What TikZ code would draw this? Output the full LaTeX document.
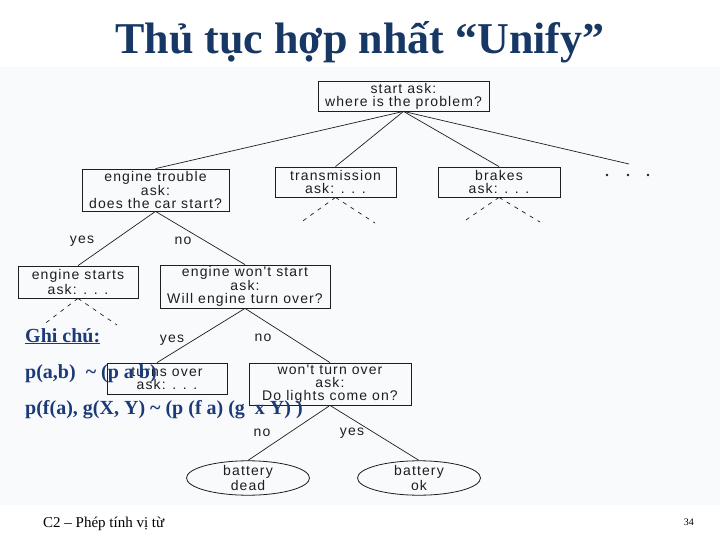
\documentclass[tikz,border=0pt]{standalone}
\usepackage{fontspec}
\setmainfont{Liberation Serif}
\newfontfamily\treefont[LetterSpace=8]{Liberation Sans}
\usetikzlibrary{shapes.geometric}
\definecolor{navy}{RGB}{23,55,100}
\definecolor{notecol}{RGB}{28,58,120}
\definecolor{ink}{RGB}{30,30,30}
\definecolor{scanbg}{RGB}{249,250,252}
\begin{document}
\begin{tikzpicture}[x=1pt,y=-1pt,
  treetext/.style={font=\treefont\fontsize{14}{12.8}\selectfont, text=ink},
  box/.style={treetext, draw=ink, line width=0.8pt, inner sep=0pt, align=center},
  oval/.style={treetext, ellipse, draw=ink, line width=0.8pt, inner sep=0pt, align=center, minimum width=123pt, minimum height=30pt},
  link/.style={draw=ink, line width=0.7pt},
  dlink/.style={draw=ink, line width=0.7pt, dash pattern=on 4pt off 5pt},
  lbl/.style={treetext, inner sep=0pt},
  note/.style={font=\fontsize{20}{20}\selectfont\bfseries, text=notecol, anchor=base west, inner sep=0pt},
  dotmark/.style={circle, fill=ink, inner sep=0pt, minimum size=2.6pt}
]
\useasboundingbox (0,0) rectangle (720,540);
\fill[scanbg] (0,67) rectangle (720,505);

% title
\node[font=\fontsize{44}{44}\selectfont\bfseries, text=navy, anchor=base, inner sep=0pt] (title) at (360,54) {Thủ tục hợp nhất “Unify”};

% tree nodes
\node[box, minimum width=171pt, minimum height=30pt] (start) at (403.5,96) {start ask:\\where is the problem?};
\node[box, minimum width=147pt, minimum height=42pt] (et) at (155.5,190) {engine trouble\\ask:\\does the car start?};
\node[box, minimum width=121pt, minimum height=30pt] (tr) at (335.5,182) {transmission\\ask: . . .};
\node[box, minimum width=122pt, minimum height=30pt] (br) at (499,182) {brakes\\ask: . . .};
\node[box, minimum width=120pt, minimum height=32pt] (es) at (78,282) {engine starts\\ask: . . .};
\node[box, minimum width=170pt, minimum height=43pt] (ews) at (245,286.5) {engine won't start\\ask:\\Will engine turn over?};
\node[box, minimum width=120pt, minimum height=31pt] (to) at (167,378.5) {turns over\\ask: . . .};
\node[box, minimum width=162pt, minimum height=42pt] (wto) at (330,384) {won't turn over\\ask:\\Do lights come on?};
\node[oval] (bd) at (248,478) {battery\\dead};
\node[oval] (bo) at (419,478) {battery\\ok};

% dots for more branches
\coordinate (more) at (629,164);
\node[dotmark] (d1) at (607,175) {};
\node[dotmark] (d2) at (628,175) {};
\node[dotmark] (d3) at (648,175) {};

% dashed stub ends
\coordinate (esL) at (43,325);
\coordinate (esR) at (117,325);
\coordinate (trL) at (300,223);
\coordinate (trR) at (375,223);
\coordinate (brL) at (463,222);
\coordinate (brR) at (540,222);

% solid connectors
\draw[link] (start.south) -- (et.north);
\draw[link] (start.south) -- (tr.north);
\draw[link] (start.south) -- (br.north);
\draw[link] (start.south) -- (more);
\draw[link] (et.south) -- (es.north);
\draw[link] (et.south) -- (ews.north);
\draw[link] (ews.south) -- ([xshift=-10pt]to.north);
\draw[link] (ews.south) -- (wto.north);
\draw[link] (wto.south) -- (bd.north);
\draw[link] (wto.south) -- (bo.north);

% dashed connectors
\draw[dlink] (es.south) -- (esL);
\draw[dlink] (es.south) -- (esR);
\draw[dlink] (tr.south) -- (trL);
\draw[dlink] (tr.south) -- (trR);
\draw[dlink] (br.south) -- (brL);
\draw[dlink] (br.south) -- (brR);

% edge labels
\node[lbl] (l1) at (82,241) {yes};
\node[lbl] (l2) at (183,241) {no};
\node[lbl] (l3) at (172,340) {yes};
\node[lbl] (l4) at (263,338) {no};
\node[lbl] (l5) at (262,433) {no};
\node[lbl] (l6) at (352,433) {yes};

% notes overlay
\node[note] (n1) at (25,342) {\underline{Ghi chú:}};
\node[note] (n2) at (25,378) {p(a,b)\ \ \textasciitilde\ (p a b)};
\node[note] (n3) at (25,414) {p(f(a), g(X, Y) \textasciitilde\ (p (f a) (g\ \ x Y) )};

% footer
\node[font=\fontsize{15}{15}\selectfont, anchor=base west, inner sep=0pt] (foot) at (43,527) {C2 – Phép tính vị từ};
\node[font=\fontsize{10}{10}\selectfont, anchor=base east, inner sep=0pt] (page) at (694,525) {34};
\end{tikzpicture}
\end{document}
